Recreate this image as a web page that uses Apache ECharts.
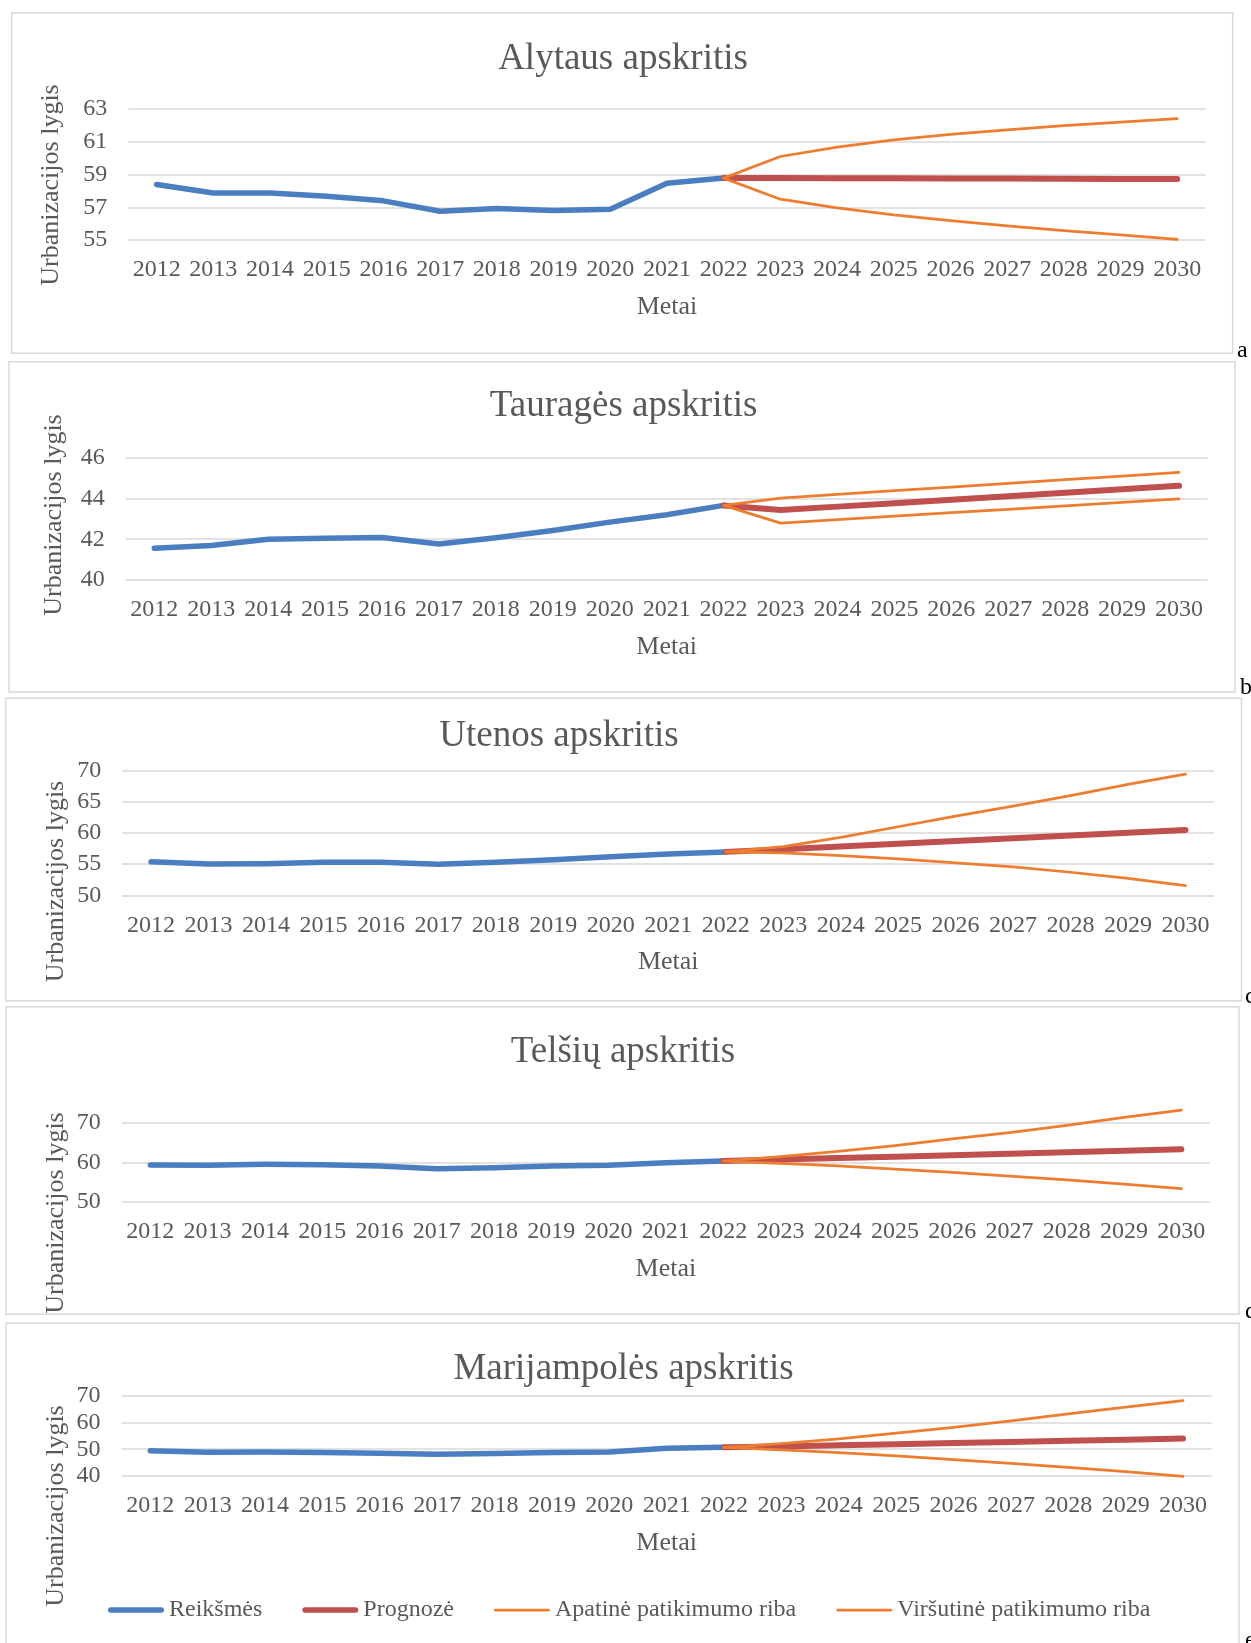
<!DOCTYPE html>
<html>
<head>
<meta charset="utf-8">
<script src="https://cdn.jsdelivr.net/npm/echarts@6/dist/echarts.min.js"></script>
<style>
html,body{margin:0;padding:0;background:#ffffff;}
#chart{width:1251px;height:1643px;}
</style>
</head>
<body>
<div id="chart"></div>
<script>
// ---------- DATA ----------
const years = ['2012','2013','2014','2015','2016','2017','2018','2019','2020','2021','2022','2023','2024','2025','2026','2027','2028','2029','2030'];
const seriesNames = ['Reikšmės', 'Prognozė', 'Apatinė patikimumo riba', 'Viršutinė patikimumo riba'];
const panelTitles = ['Alytaus apskritis', 'Tauragės apskritis', 'Utenos apskritis', 'Telšių apskritis', 'Marijampolės apskritis'];
const panelLetters = ['a', 'b', 'c', 'd', 'e'];

// actual values 2012-2022
const alytusActual = [58.39, 57.87, 57.87, 57.67, 57.39, 56.76, 56.92, 56.80, 56.88, 58.47, 58.78];
const taurageActual = [41.56, 41.69, 42.00, 42.05, 42.08, 41.77, 42.07, 42.43, 42.84, 43.20, 43.66];
const utenaActual = [55.37, 55.03, 55.08, 55.30, 55.30, 54.97, 55.30, 55.72, 56.20, 56.63, 56.97];
const telsiaiActual = [59.33, 59.30, 59.50, 59.40, 59.10, 58.40, 58.65, 59.10, 59.25, 59.90, 60.34];
const marijampoleActual = [49.40, 48.90, 49.00, 48.75, 48.50, 48.10, 48.40, 48.75, 49.00, 50.40, 50.70];

// forecast, lower and upper bounds 2022-2030
const alytusForecast = [58.78, 58.78, 58.77, 58.77, 58.76, 58.75, 58.74, 58.73, 58.72];
const alytusLower = [58.78, 57.49, 56.96, 56.53, 56.18, 55.86, 55.57, 55.31, 55.04];
const alytusUpper = [58.78, 60.10, 60.67, 61.12, 61.45, 61.73, 61.98, 62.20, 62.41];

const taurageForecast = [43.66, 43.43, 43.60, 43.77, 43.94, 44.11, 44.28, 44.45, 44.62];
const taurageLower = [43.66, 42.79, 42.96, 43.13, 43.30, 43.47, 43.64, 43.81, 43.98];
const taurageUpper = [43.66, 44.02, 44.20, 44.38, 44.56, 44.74, 44.92, 45.10, 45.28];

const utenaForecast = [56.97, 57.39, 57.83, 58.27, 58.72, 59.16, 59.60, 60.04, 60.48];
const utenaLower = [56.97, 56.80, 56.36, 55.83, 55.19, 54.55, 53.70, 52.73, 51.55];
const utenaUpper = [56.97, 57.80, 59.30, 61.00, 62.70, 64.30, 66.00, 67.80, 69.45];

const telsiaiForecast = [60.34, 60.71, 61.08, 61.44, 61.81, 62.18, 62.55, 62.91, 63.28];
const telsiaiLower = [60.34, 59.75, 59.08, 58.30, 57.50, 56.55, 55.55, 54.50, 53.36];
const telsiaiUpper = [60.34, 61.43, 62.77, 64.20, 65.90, 67.50, 69.30, 71.34, 73.20];

const marijampoleForecast = [50.70, 51.03, 51.45, 51.88, 52.30, 52.73, 53.15, 53.58, 54.00];
const marijampoleLower = [50.70, 49.75, 48.75, 47.50, 46.10, 44.75, 43.25, 41.60, 39.90];
const marijampoleUpper = [50.70, 52.10, 53.90, 56.00, 58.20, 60.60, 63.20, 65.70, 68.20];

// y axis tick settings
const yMins = [55, 40, 50, 50, 40];
const yMaxs = [63, 46, 70, 70, 70];
const yIntervals = [2, 2, 5, 10, 10];

const actuals = [alytusActual, taurageActual, utenaActual, telsiaiActual, marijampoleActual];
const forecasts = [alytusForecast, taurageForecast, utenaForecast, telsiaiForecast, marijampoleForecast];
const lowers = [alytusLower, taurageLower, utenaLower, telsiaiLower, marijampoleLower];
const uppers = [alytusUpper, taurageUpper, utenaUpper, telsiaiUpper, marijampoleUpper];

// ---------- LAYOUT ----------
const W = 1251, H = 1643;
const layout = [
  { box: [11.7, 12.7, 1221, 340.6], title: [623, 41], grid: [128.3, 1205.6, 109, 240], yName: [51, 185], letter: [1237, 351] },
  { box: [9, 361.7, 1226, 330.3], title: [623.6, 388], grid: [125.8, 1207.5, 457.7, 580], yName: [54, 515], letter: [1240, 688] },
  { box: [5.7, 698.3, 1235.8, 302.4], title: [559, 718], grid: [122.3, 1214.2, 770.7, 895.3], yName: [56, 881.5], letter: [1245, 997] },
  { box: [6, 1006.7, 1233, 307.6], title: [623, 1034], grid: [121.7, 1210, 1122.7, 1202], yName: [56, 1213], letter: [1245, 1312] },
  { box: [6, 1323.3, 1233, 340], title: [623.5, 1351], grid: [121.6, 1211.7, 1395.7, 1476], yName: [56, 1506], letter: [1245, 1641] }
];

const FONT = '"Liberation Serif", "Times New Roman", serif';
const TXT = '#595959';
const C_BLUE = '#4A7EC1', C_RED = '#C0504D', C_ORANGE = '#ED7D31';
const W_THICK = 5.5, W_THIN = 2.75;

// legend icons: rounded bars centred in a 56x14 box (degenerate sub-paths fix the box)
const ICON_THICK = 'path://M0,0L0.01,0ZM2.75,4.25H53.25A2.75,2.75,0,0,1,53.25,9.75H2.75A2.75,2.75,0,0,1,2.75,4.25ZM0,14L0.01,14Z';
const ICON_THIN = 'path://M0,0L0.01,0ZM1.375,5.625H54.625A1.375,1.375,0,0,1,54.625,8.375H1.375A1.375,1.375,0,0,1,1.375,5.625ZM0,14L0.01,14Z';

const pad = (n) => new Array(n).fill(null);

const titles = [], grids = [], xAxes = [], yAxes = [], series = [], graphics = [];

layout.forEach((L, i) => {
  titles.push({
    text: panelTitles[i], left: L.title[0], top: L.title[1], textAlign: 'center', padding: 0,
    textStyle: { fontSize: 37, fontWeight: 'normal', fontFamily: FONT, color: TXT }
  });
  grids.push({ left: L.grid[0], right: W - L.grid[1], top: L.grid[2], bottom: H - L.grid[3], containLabel: false });
  xAxes.push({
    type: 'category', gridIndex: i, data: years, boundaryGap: true,
    axisLine: { show: false }, axisTick: { show: false },
    axisLabel: { interval: 0, margin: 18, fontSize: 24, color: TXT, fontFamily: FONT },
    name: 'Metai', nameLocation: 'middle', nameGap: 54,
    nameTextStyle: { fontSize: 26, color: TXT, fontFamily: FONT }
  });
  yAxes.push({
    type: 'value', gridIndex: i, min: yMins[i], max: yMaxs[i], interval: yIntervals[i],
    axisLine: { show: false }, axisTick: { show: false },
    axisLabel: { margin: 21, fontSize: 24, color: TXT, fontFamily: FONT },
    splitLine: { lineStyle: { color: '#D9D9D9', width: 1.5 } }
  });
  const common = { type: 'line', xAxisIndex: i, yAxisIndex: i, symbol: 'none', clip: false, smooth: false, connectNulls: false, animation: false };
  series.push(Object.assign({}, common, {
    name: seriesNames[0], data: actuals[i].concat(pad(8)),
    lineStyle: { color: C_BLUE, width: W_THICK, cap: 'round', join: 'round' }, itemStyle: { color: C_BLUE }, z: 2
  }));
  series.push(Object.assign({}, common, {
    name: seriesNames[1], data: pad(10).concat(forecasts[i]),
    lineStyle: { color: C_RED, width: W_THICK + 0.5, cap: 'round', join: 'round' }, itemStyle: { color: C_RED }, z: 3
  }));
  series.push(Object.assign({}, common, {
    name: seriesNames[2], data: pad(10).concat(lowers[i]),
    lineStyle: { color: C_ORANGE, width: W_THIN, cap: 'round', join: 'round' }, itemStyle: { color: C_ORANGE }, z: 4
  }));
  series.push(Object.assign({}, common, {
    name: seriesNames[3], data: pad(10).concat(uppers[i]),
    lineStyle: { color: C_ORANGE, width: W_THIN, cap: 'round', join: 'round' }, itemStyle: { color: C_ORANGE }, z: 5
  }));
  graphics.push({
    type: 'rect', silent: true, z: -10,
    shape: { x: L.box[0], y: L.box[1], width: L.box[2], height: L.box[3] },
    style: { fill: 'none', stroke: '#D9D9D9', lineWidth: 1.5 }
  });
  graphics.push({
    type: 'text', silent: true, x: L.yName[0], y: L.yName[1], rotation: Math.PI / 2,
    style: { text: 'Urbanizacijos lygis', fontSize: 26, fontFamily: FONT, fill: TXT, align: 'center', verticalAlign: 'middle' }
  });
  graphics.push({
    type: 'text', silent: true, x: L.letter[0], y: L.letter[1],
    style: { text: panelLetters[i], fontSize: 24, fontFamily: FONT, fill: '#000000', align: 'left', verticalAlign: 'middle' }
  });
});

const chart = echarts.init(document.getElementById('chart'), null, { renderer: 'canvas', width: W, height: H });
chart.setOption({
  backgroundColor: '#ffffff',
  animation: false,
  title: titles,
  grid: grids,
  xAxis: xAxes,
  yAxis: yAxes,
  series: series,
  legend: {
    data: [
      { name: seriesNames[0], icon: ICON_THICK },
      { name: seriesNames[1], icon: ICON_THICK },
      { name: seriesNames[2], icon: ICON_THIN },
      { name: seriesNames[3], icon: ICON_THIN }
    ],
    left: 108, top: 1598, padding: 0, itemWidth: 56, itemHeight: 14, itemGap: 40,
    itemStyle: { borderWidth: 0 },
    textStyle: { fontSize: 24, color: TXT, fontFamily: FONT }
  },
  graphic: graphics
});
</script>
</body>
</html>
